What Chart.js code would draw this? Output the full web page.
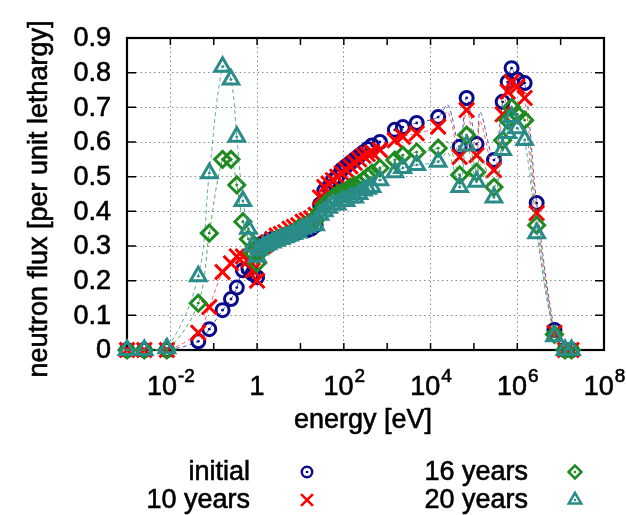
<!DOCTYPE html>
<html>
<head>
<meta charset="utf-8">
<script src="https://cdn.jsdelivr.net/npm/chart.js@4.4.0/dist/chart.umd.min.js"></script>
<style>
    html, body { margin: 0; padding: 0; background: #fff; }
</style>
</head>
<body>
<canvas id="fluxChart" width="626" height="515"></canvas>
<script>
// energy groups [eV], shared by all four spectra
const energy = [
    0.001, 0.0025, 0.0083, 0.044, 0.079, 0.16, 0.25, 0.34, 0.47, 0.63, 0.79, 1.0,
    1.12, 1.41, 1.78, 2.24, 2.82, 3.55, 4.47, 5.62, 7.08, 8.91,
    11.2, 14.1, 17.8, 22.4, 28.2, 35.5, 44.7, 56.2, 70.8, 89.1,
    112, 141, 178, 224, 282, 355, 447,
    680, 1500, 2300, 4800, 15000, 25000, 47000, 68000, 115000, 140000,
    290000, 460000, 600000, 740000, 1000000, 1480000, 2800000, 7200000, 12600000, 17800000
];
// groups that only show in the dashed curve, with no marker in the plot
const unmarkedEnergy = [25000, 140000];

const fluxInitial = [
    0, 0, 0, 0.025, 0.06, 0.115, 0.147, 0.18, 0.23, 0.235, 0.22, 0.21,
    0.30, 0.31, 0.315, 0.32, 0.32, 0.325, 0.33, 0.33, 0.335, 0.34,
    0.35, 0.345, 0.35, 0.36, 0.42, 0.46, 0.47, 0.49, 0.50, 0.52,
    0.53, 0.54, 0.55, 0.56, 0.57, 0.58, 0.59,
    0.60, 0.635, 0.643, 0.655, 0.672, 0.707, 0.586, 0.727, 0.594, 0.687,
    0.548, 0.716, 0.773, 0.813, 0.78, 0.77, 0.424, 0.058, 0, 0
];
const flux10y = [
    0, 0, 0, 0.05, 0.124, 0.225, 0.25, 0.27, 0.27, 0.26, 0.23, 0.20,
    0.27, 0.30, 0.31, 0.32, 0.33, 0.335, 0.34, 0.35, 0.355, 0.36,
    0.37, 0.375, 0.38, 0.39, 0.44, 0.47, 0.48, 0.49, 0.50, 0.51,
    0.52, 0.53, 0.54, 0.55, 0.56, 0.565, 0.57,
    0.577, 0.605, 0.615, 0.625, 0.644, 0.687, 0.557, 0.692, 0.562, 0.66,
    0.519, 0.68, 0.745, 0.773, 0.76, 0.727, 0.395, 0.05, 0, 0
];
const flux16y = [
    0, 0, 0, 0.135, 0.337, 0.55, 0.55, 0.476, 0.37, 0.32, 0.28, 0.25,
    0.28, 0.30, 0.305, 0.31, 0.32, 0.325, 0.33, 0.335, 0.34, 0.35,
    0.355, 0.36, 0.37, 0.375, 0.40, 0.42, 0.43, 0.44, 0.45, 0.455,
    0.46, 0.47, 0.475, 0.48, 0.49, 0.50, 0.51,
    0.525, 0.548, 0.562, 0.571, 0.582, 0.60, 0.505, 0.62, 0.513, 0.56,
    0.47, 0.605, 0.663, 0.70, 0.68, 0.663, 0.36, 0.045, 0, 0
];
const flux20y = [
    0, 0, 0.005, 0.213, 0.51, 0.817, 0.78, 0.615, 0.43, 0.35, 0.30, 0.27,
    0.29, 0.30, 0.305, 0.31, 0.315, 0.32, 0.325, 0.33, 0.335, 0.34,
    0.35, 0.355, 0.36, 0.36, 0.39, 0.40, 0.41, 0.42, 0.42, 0.43,
    0.43, 0.44, 0.44, 0.45, 0.46, 0.465, 0.47,
    0.49, 0.513, 0.525, 0.534, 0.543, 0.57, 0.47, 0.59, 0.485, 0.535,
    0.44, 0.577, 0.626, 0.672, 0.64, 0.606, 0.337, 0.04, 0, 0
];

const seriesLabels = ["initial", "10 years", "16 years", "20 years"];
const yTickValues = [0, 0.1, 0.2, 0.3, 0.4, 0.5, 0.6, 0.7, 0.8, 0.9];
const yTickLabels = ["0", "0.1", "0.2", "0.3", "0.4", "0.5", "0.6", "0.7", "0.8", "0.9"];
const xDecades = [1e-3, 1e-2, 1e-1, 1, 1e1, 1e2, 1e3, 1e4, 1e5, 1e6, 1e7, 1e8];
const xTickValues = [1e-2, 1, 1e2, 1e4, 1e6, 1e8];
const xTickLabels = ["10^-2", "1", "10^2", "10^4", "10^6", "10^8"];

const fontFamily = '"Liberation Sans", Arial, Helvetica, sans-serif';
const colors = ["#0a0a8c", "#ff0000", "#1f8a1f", "#2a8c88"];
const lineColors = ["rgba(40,40,170,0.8)", "rgba(255,60,60,0.8)", "rgba(50,150,50,0.8)", "rgba(60,150,150,0.8)"];
const pointStyles = ["circle", "crossRot", "rectRot", "triangle"];
const pointRadii = [6.5, 10.5, 8, 9];
const dotted = [true, false, true, true];

function isMarked(e) {
    return !unmarkedEnergy.includes(e);
}

function makeDataset(i, values) {
    return {
        label: seriesLabels[i],
        data: energy.map((e, k) => ({ x: e, y: values[k] })),
        borderColor: lineColors[i],
        borderWidth: 1,
        borderDash: [4, 3],
        tension: 0.35,
        pointStyle: pointStyles[i],
        pointRadius: (c) => (c.raw && isMarked(c.raw.x) ? pointRadii[i] : 0),
        pointBorderColor: colors[i],
        pointBackgroundColor: "rgba(0,0,0,0)",
        pointBorderWidth: (c) => (c.raw && isMarked(c.raw.x) ? 3 : 0),
        clip: false,
        order: 4 - i
    };
}

function heavyText(ctx, str, x, y) {
    ctx.fillText(str, x, y);
    ctx.strokeText(str, x, y);
}

const framePlugin = {
    id: "frame",
    beforeDatasetsDraw(chart) {
        const { ctx, chartArea: a, scales } = chart;
        ctx.save();
        ctx.strokeStyle = "#000";
        ctx.lineWidth = 1.5;
        ctx.beginPath();
        xDecades.forEach((v) => {
            const x = scales.x.getPixelForValue(v);
            ctx.moveTo(x, a.bottom); ctx.lineTo(x, a.bottom - 7);
            ctx.moveTo(x, a.top); ctx.lineTo(x, a.top + 7);
        });
        yTickValues.forEach((v) => {
            const y = scales.y.getPixelForValue(v);
            ctx.moveTo(a.left, y); ctx.lineTo(a.left + 9, y);
            ctx.moveTo(a.right, y); ctx.lineTo(a.right - 9, y);
        });
        ctx.stroke();
        ctx.lineWidth = 2.2;
        ctx.strokeRect(a.left, a.top, a.right - a.left, a.bottom - a.top);
        ctx.restore();
    },
    afterDatasetDraw(chart, args) {
        // small centre dot inside circles, diamonds and triangles
        const i = args.index;
        if (!dotted[i]) return;
        const ctx = chart.ctx;
        const data = chart.data.datasets[i].data;
        ctx.save();
        ctx.fillStyle = colors[i];
        args.meta.data.forEach((pt, k) => {
            if (!isMarked(data[k].x)) return;
            ctx.beginPath();
            ctx.arc(pt.x, pt.y, 1.4, 0, Math.PI * 2);
            ctx.fill();
        });
        ctx.restore();
    }
};

const textPlugin = {
    id: "gnuplotText",
    afterDraw(chart) {
        const { ctx, chartArea: a, scales } = chart;
        ctx.save();
        ctx.fillStyle = "#000";
        ctx.strokeStyle = "#000";
        ctx.lineWidth = 0.6;

        ctx.font = `27px ${fontFamily}`;
        ctx.textAlign = "right";
        ctx.textBaseline = "middle";
        yTickValues.forEach((v, i) => {
            heavyText(ctx, yTickLabels[i], a.left - 16, scales.y.getPixelForValue(v) + 1);
        });

        ctx.textAlign = "left";
        ctx.textBaseline = "alphabetic";
        xTickValues.forEach((v, i) => {
            const [base, exp] = xTickLabels[i].split("^");
            const x = scales.x.getPixelForValue(v);
            ctx.font = `27px ${fontFamily}`;
            const wb = ctx.measureText(base).width;
            ctx.font = `19px ${fontFamily}`;
            const we = exp ? ctx.measureText(exp).width : 0;
            const x0 = x - (wb + we) / 2;
            ctx.font = `27px ${fontFamily}`;
            heavyText(ctx, base, x0, a.bottom + 45);
            if (exp) {
                ctx.font = `19px ${fontFamily}`;
                heavyText(ctx, exp, x0 + wb + 1, a.bottom + 32);
            }
        });

        ctx.font = `27px ${fontFamily}`;
        ctx.textAlign = "center";
        ctx.textBaseline = "middle";
        heavyText(ctx, "energy [eV]", 363, 421);

        ctx.save();
        ctx.translate(40, 199);
        ctx.rotate(-Math.PI / 2);
        heavyText(ctx, "neutron flux [per unit lethargy]", 0, 0);
        ctx.restore();

        // key: text right-aligned, sample to its right, two columns
        const textRight = [250, 528];
        const sampleX = [307, 575];
        const rowY = [472, 500];
        ctx.textAlign = "right";
        seriesLabels.forEach((label, i) => {
            const col = Math.floor(i / 2);
            const row = i % 2;
            ctx.fillStyle = "#000";
            ctx.strokeStyle = "#000";
            ctx.lineWidth = 0.6;
            ctx.font = `27px ${fontFamily}`;
            heavyText(ctx, label, textRight[col], rowY[row] + 1);
            ctx.strokeStyle = colors[i];
            ctx.fillStyle = "rgba(0,0,0,0)";
            ctx.lineWidth = 2.5;
            Chart.helpers.drawPoint(ctx, {
                pointStyle: pointStyles[i],
                radius: pointRadii[i] * 0.8,
                rotation: 0,
                borderWidth: 2.5
            }, sampleX[col], rowY[row]);
            if (dotted[i]) {
                ctx.fillStyle = colors[i];
                ctx.beginPath();
                ctx.arc(sampleX[col], rowY[row], 1.3, 0, Math.PI * 2);
                ctx.fill();
            }
        });
        ctx.restore();
    }
};

const ctx = document.getElementById("fluxChart").getContext("2d");
new Chart(ctx, {
    type: "line",
    data: {
        datasets: [
            makeDataset(0, fluxInitial),
            makeDataset(1, flux10y),
            makeDataset(2, flux16y),
            makeDataset(3, flux20y)
        ]
    },
    options: {
        responsive: false,
        animation: false,
        devicePixelRatio: 1,
        layout: { padding: { left: 127, top: 38, right: 22, bottom: 165 } },
        plugins: {
            legend: { display: false },
            tooltip: { enabled: false }
        },
        scales: {
            x: {
                type: "logarithmic",
                min: 1e-3,
                max: 1e8,
                afterBuildTicks: (scale) => {
                    scale.ticks = xDecades.map((v) => ({ value: v }));
                },
                ticks: { display: false },
                border: { display: false, dash: [1.5, 3] },
                grid: {
                    drawTicks: false,
                    lineWidth: 1,
                    color: (c) => {
                        const v = c.tick ? c.tick.value : 0;
                        return xTickValues.includes(v) && v !== 1e8 ? "#8a8a8a" : "rgba(0,0,0,0)";
                    }
                }
            },
            y: {
                type: "linear",
                min: 0,
                max: 0.9,
                ticks: { display: false, stepSize: 0.1 },
                border: { display: false, dash: [1.5, 3] },
                grid: {
                    drawTicks: false,
                    lineWidth: 1,
                    color: "#8a8a8a"
                }
            }
        }
    },
    plugins: [framePlugin, textPlugin]
});
</script>
</body>
</html>
